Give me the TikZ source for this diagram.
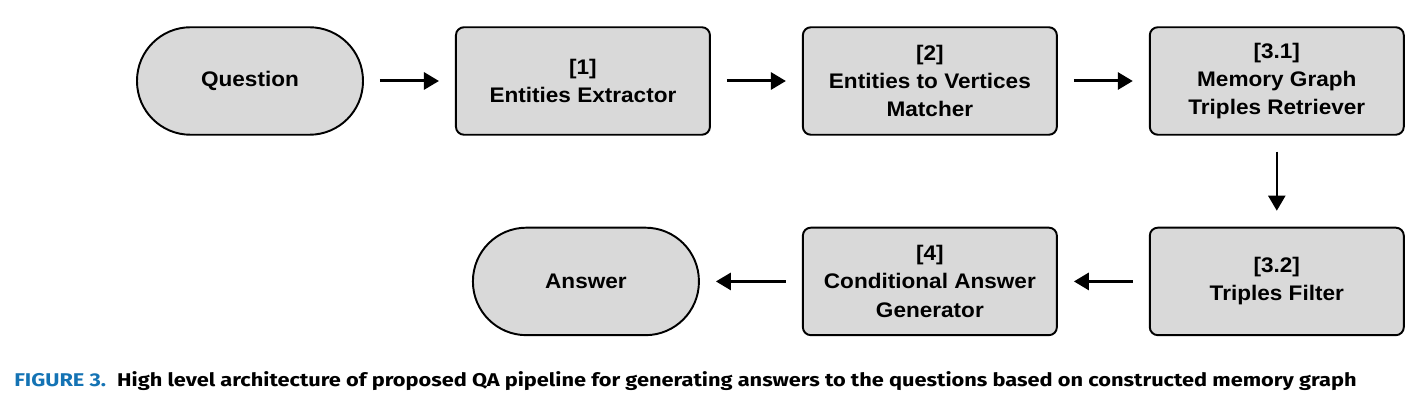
\documentclass[tikz,border=0pt]{standalone}
\usepackage{fontspec}
\usepackage{tikz}
\usetikzlibrary{arrows.meta,positioning}
\newfontfamily\boxfont[FakeStretch=1.07]{Liberation Sans}
\newfontfamily\capfont[FakeStretch=1.18]{Fira Sans}
\definecolor{capblue}{RGB}{20,115,180}
\definecolor{boxgray}{RGB}{217,217,217}

\begin{document}
\begin{tikzpicture}[
  node distance=1.82cm,
  stage/.style={draw=black,line width=1.1pt,fill=boxgray,rounded corners=0.16cm,
    minimum width=5.08cm,minimum height=2.15cm,align=center,
    font=\boxfont\bfseries\fontsize{12}{16}\selectfont},
  terminal/.style={stage,rounded corners=1.07cm,minimum width=4.52cm},
  flow/.style={-{Triangle[length=0.3cm,width=0.34cm]},line width=1.7pt,
    shorten <=0.32cm,shorten >=0.32cm}
]
\useasboundingbox (0,0) rectangle (28.54,-8.18);
% Top row
\node[terminal] (question) at (5.0,-1.62) {Question};
\node[stage,right=of question] (extract) {[1]\\Entities Extractor};
\node[stage,right=of extract] (match) {[2]\\Entities to Vertices\\Matcher};
\node[stage,right=of match] (retrieve) {[3.1]\\Memory Graph\\Triples Retriever};
% Bottom row
\node[stage,below=1.82cm of retrieve] (filter) {[3.2]\\Triples Filter};
\node[stage,left=of filter] (generate) {[4]\\Conditional Answer\\Generator};
\node[terminal,left=2.04cm of generate] (answer) {Answer};
% Arrows
\draw[flow] (question) -- (extract);
\draw[flow] (extract) -- (match);
\draw[flow] (match) -- (retrieve);
\draw[flow,line width=1.2pt] (retrieve) -- (filter);
\draw[flow] (filter) -- (generate);
\draw[flow] (generate) -- (answer);
% Caption
\node[anchor=base west,inner sep=0pt,font=\capfont\bfseries\fontsize{10.5}{12}\selectfont] (caption) at (0.28,-7.74)
  {\textcolor{capblue}{FIGURE 3.}\hspace{0.6em}High level architecture of proposed QA pipeline for generating answers to the questions based on constructed memory graph};
\end{tikzpicture}
\end{document}
